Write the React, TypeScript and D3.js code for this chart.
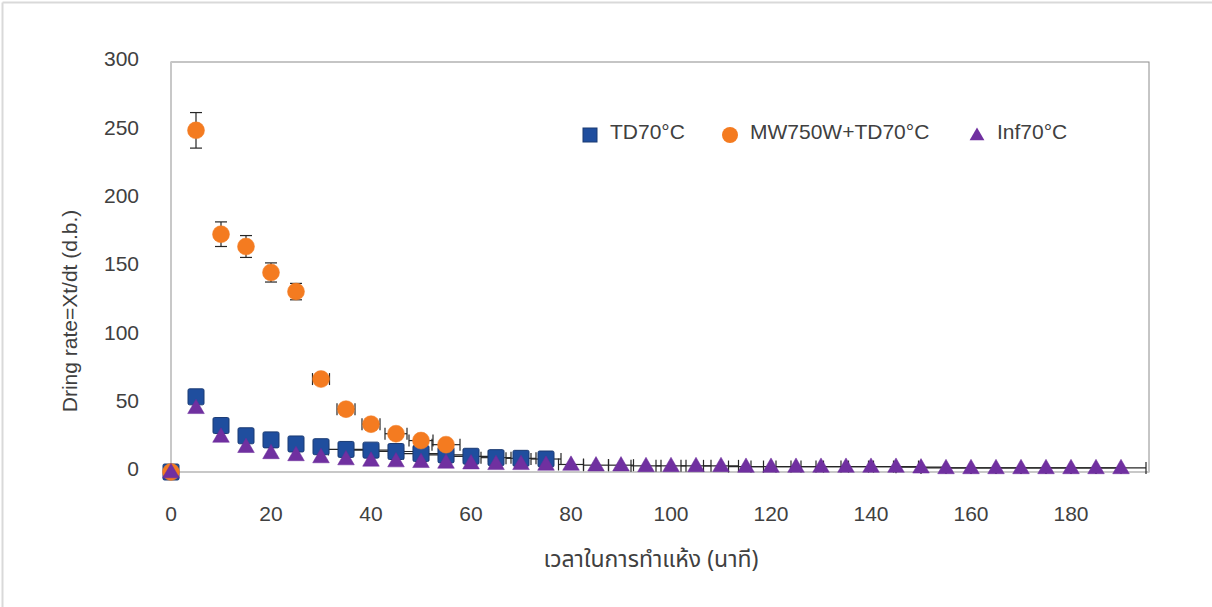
import React, { useEffect, useRef } from "react";
import * as d3 from "d3";

// drying time (min)
const timeTD = [0, 5, 10, 15, 20, 25, 30, 35, 40, 45, 50, 55, 60, 65, 70, 75];
const rateTD = [0, 55, 34, 26.5, 23.5, 20.5, 18.5, 16.5, 16, 15, 13.5, 12.5, 11.5, 10.5, 10, 9.5];
const xErrTD = [0, 0, 0, 0, 0, 0, 0, 3.5, 3.5, 3.5, 3.5, 3.5, 3.5, 3, 3, 3];

const timeMW = [0, 5, 10, 15, 20, 25, 30, 35, 40, 45, 50, 55];
const rateMW = [0, 250, 174, 165, 146, 132, 68, 46, 35, 28, 23, 20];
const yErrMW = [0, 13, 9, 8, 7, 6, 0, 0, 0, 0, 0, 0];
const xErrMW = [0, 0, 0, 0, 0, 0, 1.7, 1.8, 1.8, 2.2, 2.4, 2.8];

const timeInf = [
  0, 5, 10, 15, 20, 25, 30, 35, 40, 45, 50, 55, 60, 65, 70, 75, 80, 85, 90, 95,
  100, 105, 110, 115, 120, 125, 130, 135, 140, 145, 150, 155, 160, 165, 170, 175,
  180, 185, 190,
];
const rateInf = [
  0, 47, 26, 18.5, 14, 12.5, 11, 9.5, 8.5, 8, 7.5, 7, 6.5, 6, 6, 5.5, 5.5, 5, 5, 4.5,
  4.5, 4.5, 4.5, 4, 4, 4, 4, 4, 4, 4, 3.5, 3, 3, 3, 3, 3, 3, 3, 3,
];
const xErrInf = [
  0, 0, 0, 0, 0, 0, 0, 0, 0, 0, 0, 0, 0, 0, 0, 0, 2.5, 2.5, 2.5, 3, 3, 3, 3.5, 3.5,
  4, 4, 4, 4.5, 4.5, 4.5, 5, 5, 5, 5, 5, 5, 5, 5, 5,
];

const xTicks = [0, 20, 40, 60, 80, 100, 120, 140, 160, 180];
const yTicks = [0, 50, 100, 150, 200, 250, 300];

const seriesNames = ["TD70°C", "MW750W+TD70°C", "Inf70°C"];

const W = 1212;
const H = 607;

const App = () => {
  const svgRef = useRef<SVGSVGElement>(null);

  useEffect(() => {
    const svg = d3.select(svgRef.current);
    svg.selectAll("*").remove();

    const left = 171;
    const right = 1149;
    const top = 62;
    const bottom = 472;
    const font = "'Liberation Sans', Arial, sans-serif";

    const x = d3.scaleLinear().domain([0, 195.6]).range([left, right]);
    const y = d3.scaleLinear().domain([0, 300]).range([bottom, top]);

    // outer frame (partial, like the cropped screenshot)
    svg.append("line").attr("x1", 2.5).attr("x2", W).attr("y1", 2.5).attr("y2", 2.5)
      .attr("stroke", "#d9d9d9").attr("stroke-width", 2);
    svg.append("line").attr("x1", 2.5).attr("x2", 2.5).attr("y1", 2.5).attr("y2", H)
      .attr("stroke", "#d9d9d9").attr("stroke-width", 2);

    // plot area border
    svg.append("rect")
      .attr("x", left).attr("y", top)
      .attr("width", right - left).attr("height", bottom - top)
      .attr("fill", "none").attr("stroke", "#8c8c8c").attr("stroke-width", 1);
    svg.append("line").attr("x1", left).attr("x2", left).attr("y1", top).attr("y2", bottom)
      .attr("stroke", "#c8c8c8").attr("stroke-width", 2);
    svg.append("line").attr("x1", left).attr("x2", right).attr("y1", bottom).attr("y2", bottom)
      .attr("stroke", "#c8c8c8").attr("stroke-width", 2);

    // tick labels
    svg.append("g").selectAll("text").data(yTicks).join("text")
      .attr("x", 139).attr("y", (d) => y(d) - 3).attr("dy", "0.35em")
      .attr("text-anchor", "end")
      .attr("font-family", font).attr("font-size", 21).attr("fill", "#404040")
      .text((d) => d);
    svg.append("g").selectAll("text").data(xTicks).join("text")
      .attr("x", (d) => x(d)).attr("y", 521)
      .attr("text-anchor", "middle")
      .attr("font-family", font).attr("font-size", 21).attr("fill", "#404040")
      .text((d) => d);

    // axis titles
    svg.append("text")
      .attr("transform", `translate(77,${311}) rotate(-90)`)
      .attr("text-anchor", "middle")
      .attr("font-family", font).attr("font-size", 21).attr("fill", "#404040")
      .text("Dring rate=Xt/dt (d.b.)");
    svg.append("text")
      .attr("x", 651).attr("y", 567)
      .attr("text-anchor", "middle")
      .attr("font-family", "'Noto Sans Thai', 'Tlwg Typo', 'DejaVu Sans', sans-serif")
      .attr("font-size", 23).attr("fill", "#404040")
      .text("เวลาในการทำแห้ง (นาที)");

    const errColor = "#262626";
    const capH = 6;

    // x error bars helper
    const xErrBars = (times: number[], vals: number[], errs: number[]) => {
      const g = svg.append("g").attr("stroke", errColor).attr("stroke-width", 1.2);
      times.forEach((t, i) => {
        const e = errs[i];
        if (!e) return;
        const yy = y(vals[i]);
        g.append("line").attr("x1", x(t - e)).attr("x2", x(t + e)).attr("y1", yy).attr("y2", yy);
        g.append("line").attr("x1", x(t - e)).attr("x2", x(t - e)).attr("y1", yy - capH).attr("y2", yy + capH);
        g.append("line").attr("x1", x(t + e)).attr("x2", x(t + e)).attr("y1", yy - capH).attr("y2", yy + capH);
      });
    };

    // TD70°C squares
    xErrBars(timeTD, rateTD, xErrTD);
    svg.append("g").selectAll("rect").data(timeTD).join("rect")
      .attr("x", (d) => x(d) - 8).attr("y", (_, i) => y(rateTD[i]) - 8)
      .attr("width", 16).attr("height", 16).attr("rx", 1.5)
      .attr("fill", "#1f4e9e").attr("stroke", "#1a3a73").attr("stroke-width", 1);

    // MW750W+TD70°C circles
    xErrBars(timeMW, rateMW, xErrMW);
    const gy = svg.append("g").attr("stroke", errColor).attr("stroke-width", 1.2);
    timeMW.forEach((t, i) => {
      const e = yErrMW[i];
      if (!e) return;
      const xx = x(t);
      gy.append("line").attr("x1", xx).attr("x2", xx).attr("y1", y(rateMW[i] - e)).attr("y2", y(rateMW[i] + e));
      gy.append("line").attr("x1", xx - capH).attr("x2", xx + capH).attr("y1", y(rateMW[i] - e)).attr("y2", y(rateMW[i] - e));
      gy.append("line").attr("x1", xx - capH).attr("x2", xx + capH).attr("y1", y(rateMW[i] + e)).attr("y2", y(rateMW[i] + e));
    });
    svg.append("g").selectAll("circle").data(timeMW).join("circle")
      .attr("cx", (d) => x(d)).attr("cy", (_, i) => y(rateMW[i])).attr("r", 8.5)
      .attr("fill", "#f47b20").attr("stroke", "#f0802c").attr("stroke-width", 0.5);

    // Inf70°C triangles
    xErrBars(timeInf, rateInf, xErrInf);
    const tri = d3.symbol().type(d3.symbolTriangle).size(120);
    svg.append("g").selectAll("path").data(timeInf).join("path")
      .attr("d", tri)
      .attr("transform", (d, i) => `translate(${x(d)},${y(rateInf[i]) + 1})`)
      .attr("fill", "#7030a0").attr("stroke", "#6a2a9a").attr("stroke-width", 0.5);

    // legend
    const lg = svg.append("g").attr("font-family", font).attr("font-size", 21).attr("fill", "#404040");
    const lx = [590, 730, 977];
    const ly = 134;
    lg.append("rect").attr("x", lx[0] - 7).attr("y", ly - 6).attr("width", 14).attr("height", 14)
      .attr("fill", "#1f4e9e").attr("stroke", "#1a3a73");
    lg.append("circle").attr("cx", lx[1]).attr("cy", ly + 1).attr("r", 8).attr("fill", "#f47b20");
    lg.append("path").attr("d", d3.symbol().type(d3.symbolTriangle).size(95))
      .attr("transform", `translate(${lx[2]},${ly + 2})`).attr("fill", "#7030a0");
    lg.selectAll("text").data(seriesNames).join("text")
      .attr("x", (_, i) => lx[i] + 20).attr("y", ly - 2).attr("dy", "0.35em")
      .text((d) => d);
  }, []);

  return (
    <div style={{ position: "absolute", left: 0, top: 0, width: W, height: H, background: "#fff" }}>
      <svg ref={svgRef} width={W} height={H} style={{ display: "block" }}></svg>
    </div>
  );
};

export default App;
